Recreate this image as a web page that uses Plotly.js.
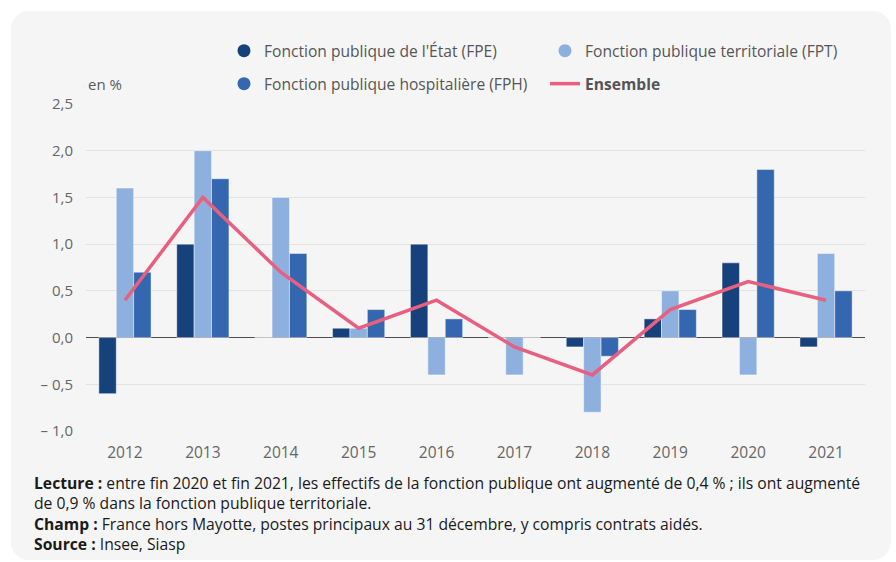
<!DOCTYPE html>
<html><head><meta charset="utf-8">
<script src="https://cdn.plot.ly/plotly-3.0.1.min.js"></script>
<style>
body{margin:0;background:#fff;}
#bg{position:absolute;left:11px;top:11px;width:880px;height:549px;background:#f5f5f5;border-radius:18px;}
#chart{position:absolute;left:0;top:0;width:896px;height:562px;}
</style></head><body><div id="bg"></div><div id="chart"></div>
<script>
const years = ['2012','2013','2014','2015','2016','2017','2018','2019','2020','2021'];
const fpe = [-0.6, 1.0, 0, 0.1, 1.0, 0, -0.1, 0.2, 0.8, -0.1];
const fpt = [1.6, 2.0, 1.5, 0.1, -0.4, -0.4, -0.8, 0.5, -0.4, 0.9];
const fph = [0.7, 1.7, 0.9, 0.3, 0.2, 0, -0.2, 0.3, 1.8, 0.5];
const ensemble = [0.4, 1.5, 0.7, 0.1, 0.4, -0.1, -0.4, 0.3, 0.6, 0.4];
const yTickVals = [-1, -0.5, 0, 0.5, 1, 1.5, 2, 2.5];
const yTickText = ['– 1,0', '– 0,5', '0,0', '0,5', '1,0', '1,5', '2,0', '2,5'];
const names = ["Fonction publique de l'État (FPE)", 'Fonction publique territoriale (FPT)', 'Fonction publique hospitalière (FPH)', '<b>Ensemble</b>'];
const colors = ['#17417a', '#8eb0de', '#3567b0', '#e8607f'];
const footLines = [
  '<b>Lecture :</b> entre fin 2020 et fin 2021, les effectifs de la fonction publique ont augmenté de 0,4 % ; ils ont augmenté',
  'de 0,9 % dans la fonction publique territoriale.',
  '<b>Champ :</b> France hors Mayotte, postes principaux au 31 décembre, y compris contrats aidés.',
  '<b>Source :</b> Insee, Siasp'
];

const barLine = {color: 'rgba(255,255,255,0.45)', width: 1};
const traces = [
  {type:'bar', x:years, y:fpe, marker:{color:colors[0], line:barLine}, showlegend:false, hoverinfo:'skip'},
  {type:'bar', x:years, y:fpt, marker:{color:colors[1], line:barLine}, showlegend:false, hoverinfo:'skip'},
  {type:'bar', x:years, y:fph, marker:{color:colors[2], line:barLine}, showlegend:false, hoverinfo:'skip'},
  {type:'scatter', mode:'lines', x:years, y:ensemble, line:{color:colors[3], width:3.5}, showlegend:false},
  // legend entries
  {type:'scatter', mode:'markers', x:[null], y:[null], name:names[0], marker:{color:colors[0], size:13, symbol:'circle'}, legend:'legend'},
  {type:'scatter', mode:'markers', x:[null], y:[null], name:names[1], marker:{color:colors[1], size:13, symbol:'circle'}, legend:'legend'},
  {type:'scatter', mode:'markers', x:[null], y:[null], name:names[2], marker:{color:colors[2], size:13, symbol:'circle'}, legend:'legend2'},
  {type:'scatter', mode:'lines', x:[null], y:[null], name:names[3], line:{color:colors[3], width:3.5}, legend:'legend2'}
];

const baseFont = {family:'"Open Sans", sans-serif', size:15, color:'#5a5a5a'};
const legendCommon = {orientation:'h', xanchor:'left', yanchor:'middle', bgcolor:'rgba(0,0,0,0)', font:{family:'"Open Sans", sans-serif', size:15.6, color:'#555'}, entrywidth:276, entrywidthmode:'pixels', itemclick:false, itemdoubleclick:false, traceorder:'normal'};

const footFont = {family:'"Open Sans", sans-serif', size:15.7, color:'#1a1a1a'};

const layout = {
  width:896, height:562,
  margin:{l:86, r:31, t:104, b:131},
  paper_bgcolor:'rgba(0,0,0,0)', plot_bgcolor:'rgba(0,0,0,0)',
  font:baseFont,
  barmode:'group', bargap:0.33, bargroupgap:0,
  xaxis:{type:'category', showgrid:false, zeroline:false, showline:false, ticks:'', tickfont:{size:15.5, color:'#666'}, ticklabelstandoff:10},
  yaxis:{range:[-1, 2.5], tickvals:yTickVals, ticktext:yTickText, showgrid:true, gridcolor:'#e2e2e2', gridwidth:1, zeroline:true, zerolinecolor:'#4d4d4d', zerolinewidth:1.5, ticks:'', tickfont:{size:15, color:'#666'}, ticklabelstandoff:12, fixedrange:true},
  legend:Object.assign({}, legendCommon, {x:(224-86)/779, y:(431-51)/327}),
  legend2:Object.assign({}, legendCommon, {x:(224-86)/779, y:(431-84)/327}),
  annotations:[
    {xref:'paper', yref:'paper', x:0, y:(431-84)/327, xanchor:'left', yanchor:'middle', text:'en %', showarrow:false, font:{family:'"Open Sans", sans-serif', size:15, color:'#5a5a5a'}},
    {xref:'paper', yref:'paper', x:(32-86)/779, y:(431-513.5)/327, xanchor:'left', yanchor:'middle', text:footLines.join('<br>'), showarrow:false, font:footFont, align:'left'}
  ]
};
Plotly.newPlot('chart', traces, layout, {displayModeBar:false, staticPlot:true});
</script></body></html>
